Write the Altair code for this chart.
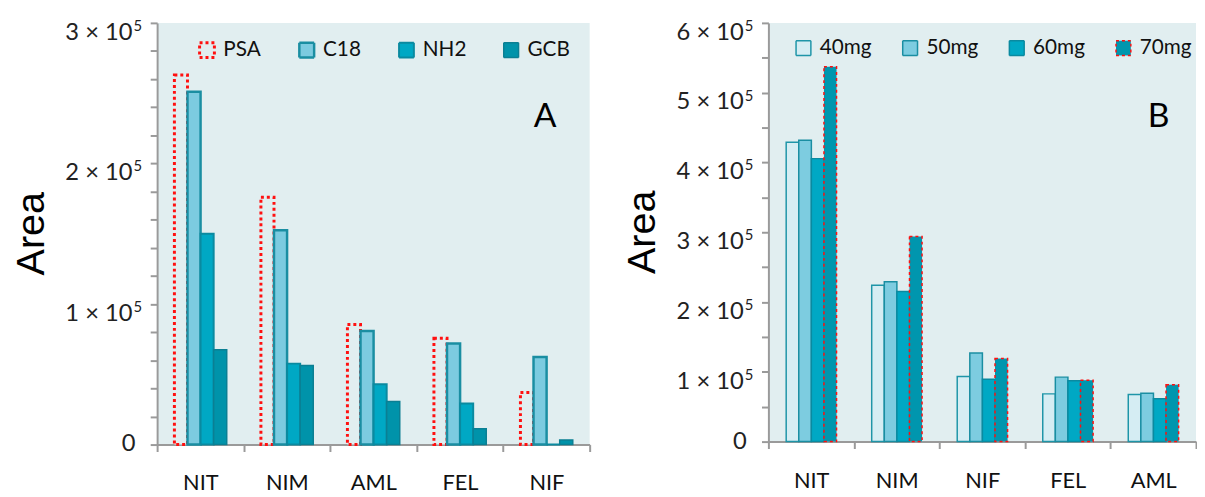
import altair as alt
import pandas as pd

# ---------------- data ----------------
cats_a = ["NIT", "NIM", "AML", "FEL", "NIF"]
series_a = ["PSA", "C18", "NH2", "GCB"]
psa = [263000, 176000, 85500, 75700, 37000]
c18 = [251000, 152500, 80800, 71900, 62300]
nh2 = [150000, 57600, 42900, 29300, 0]
gcb = [67500, 56200, 30700, 11200, 3300]

cats_b = ["NIT", "NIM", "NIF", "FEL", "AML"]
series_b = ["40mg", "50mg", "60mg", "70mg"]
mg40 = [429000, 224000, 93400, 68400, 67400]
mg50 = [432000, 229000, 127000, 92400, 69300]
mg60 = [405500, 215000, 89500, 87200, 61300]
mg70 = [537000, 294000, 119000, 88000, 81600]

y_ticks_a = [0, 100000, 200000, 300000]
y_ticks_b = [0, 100000, 200000, 300000, 400000, 500000, 600000]
tick_mantissa_a = ["0", "1", "2", "3"]
tick_mantissa_b = ["0", "1", "2", "3", "4", "5", "6"]
tick_exponent = "5"
y_title = "Area"

BG = "#e1eef0"
RED = "#ff1010"
FONT = "Lato"
GRAY = "#9a9a9a"

rows_a = []
for s, vals in zip(series_a, [psa, c18, nh2, gcb]):
    for c, v in zip(cats_a, vals):
        rows_a.append({"cat": c, "series": s, "value": v})
df_a = pd.DataFrame(rows_a)

rows_b = []
for s, vals in zip(series_b, [mg40, mg50, mg60, mg70]):
    for c, v in zip(cats_b, vals):
        rows_b.append({"cat": c, "series": s, "value": v})
df_b = pd.DataFrame(rows_b)


def tick_df(ticks, mant):
    return pd.DataFrame({
        "value": ticks,
        "main": [m if t == 0 else m + " \u00d7 10" for t, m in zip(ticks, mant)],
        "sup": ["" if t == 0 else tick_exponent for t in ticks],
    })


def y_axis():
    return alt.Axis(
        grid=False, labels=False, title=None, tickSize=7,
        domainColor=GRAY, domainWidth=2, tickColor=GRAY, tickWidth=2,
    )


def x_axis():
    return alt.Axis(
        title=None, labelAngle=0, tickBand="extent", tickSize=7, labelPadding=22,
        domainColor=GRAY, domainWidth=2, tickColor=GRAY, tickWidth=2,
        labelFont=FONT, labelFontSize=22, labelColor="#111111",
    )


def legend(x, y, pad):
    return alt.Legend(
        title=None, orient="none", legendX=x, legendY=y, direction="horizontal",
        columns=4, columnPadding=pad, gridAlign="none", symbolType="square",
        symbolSize=225, symbolStrokeWidth=2, labelFont=FONT, labelFontSize=21,
        labelColor="#111111", labelOffset=6, symbolOpacity=1,
    )


def tick_labels(ticks, mant):
    d = tick_df(ticks, mant)
    base = alt.Chart(d)
    main = base.transform_filter("datum.value > 0").mark_text(
        font=FONT, fontSize=24, color="#222222", align="right", baseline="alphabetic", dy=17
    ).encode(y="value:Q", x=alt.value(-25), text="main:N")
    sup = base.transform_filter("datum.value > 0").mark_text(
        font=FONT, fontSize=15, color="#222222", align="left", baseline="alphabetic", dy=8
    ).encode(y="value:Q", x=alt.value(-24), text="sup:N")
    zero = base.transform_filter("datum.value == 0").mark_text(
        font=FONT, fontSize=24, color="#222222", align="right", baseline="middle"
    ).encode(y="value:Q", x=alt.value(-22), text="main:N")
    return [main, sup, zero]


def title_mark(h):
    return alt.Chart(pd.DataFrame({"t": [y_title]})).mark_text(
        font="Liberation Sans", fontSize=40, color="#000000", angle=270,
        align="center", baseline="middle"
    ).encode(text="t:N", x=alt.value(-127), y=alt.value(h / 2))


W_A, H_A = 438, 427
W_B, H_B = 433, 424

bars_a = alt.Chart(df_a).mark_bar(strokeCap="butt").encode(
    x=alt.X("cat:N", sort=cats_a, axis=x_axis(),
            scale=alt.Scale(paddingInner=0, paddingOuter=0)),
    xOffset=alt.XOffset("series:N", sort=series_a,
                        scale=alt.Scale(domain=series_a, paddingInner=0, paddingOuter=0,
                                        range=[17.5, 70.5])),
    y=alt.Y("value:Q", axis=y_axis(), scale=alt.Scale(domain=[0, 300000], nice=False)),
    fill=alt.Fill("series:N", scale=alt.Scale(domain=series_a,
                  range=[BG, "#7ccbe0", "#00a8c4", "#0093aa"]),
                  legend=legend(40, 17, 34)),
    stroke=alt.Stroke("series:N", scale=alt.Scale(domain=series_a,
                      range=[RED, "#1a8ea2", "#0a8aa0", "#0b7f93"]),
                      legend=legend(40, 17, 34)),
    strokeDash=alt.StrokeDash("series:N", scale=alt.Scale(domain=series_a,
                              range=[[3, 3], [1, 0], [1, 0], [1, 0]]),
                              legend=legend(40, 17, 34)),
    strokeWidth=alt.StrokeWidth("series:O", scale=alt.Scale(domain=series_a,
                                range=[3, 1.5, 1.5, 1.5]), legend=None),
)

lab_a = alt.Chart(pd.DataFrame({"t": ["A"]})).mark_text(
    font=FONT, fontSize=34, color="#000000", baseline="middle", align="center"
).encode(text="t:N", x=alt.value(393), y=alt.value(95))

panel_a = alt.layer(bars_a, *tick_labels(y_ticks_a, tick_mantissa_a), title_mark(H_A), lab_a
                    ).properties(width=W_A, height=H_A)

bars_b = alt.Chart(df_b).mark_bar(strokeCap="butt").encode(
    x=alt.X("cat:N", sort=cats_b, axis=x_axis(),
            scale=alt.Scale(paddingInner=0, paddingOuter=0)),
    xOffset=alt.XOffset("series:N", sort=series_b,
                        scale=alt.Scale(domain=series_b, paddingInner=0, paddingOuter=0,
                                        range=[18, 69])),
    y=alt.Y("value:Q", axis=y_axis(), scale=alt.Scale(domain=[0, 600000], nice=False)),
    fill=alt.Fill("series:N", scale=alt.Scale(domain=series_b,
                  range=["#d5edf3", "#7dcce0", "#00a8c4", "#0096ae"]),
                  legend=legend(25, 15, 28)),
    stroke=alt.Stroke("series:N", scale=alt.Scale(domain=series_b,
                      range=["#1e95a8", "#1a8ea2", "#0a8aa0", RED]),
                      legend=legend(25, 15, 28)),
    strokeDash=alt.StrokeDash("series:N", scale=alt.Scale(domain=series_b,
                              range=[[1, 0], [1, 0], [1, 0], [3, 3]]),
                              legend=legend(25, 15, 28)),
    strokeWidth=alt.StrokeWidth("series:O", scale=alt.Scale(domain=series_b,
                                range=[1.5, 1.5, 1.5, 3]), legend=None),
)

lab_b = alt.Chart(pd.DataFrame({"t": ["B"]})).mark_text(
    font=FONT, fontSize=34, color="#000000", baseline="middle", align="center"
).encode(text="t:N", x=alt.value(395), y=alt.value(95))

panel_b = alt.layer(bars_b, *tick_labels(y_ticks_b, tick_mantissa_b), title_mark(H_B), lab_b
                    ).properties(width=W_B, height=H_B)

chart = alt.hconcat(panel_a, panel_b, spacing=33).resolve_scale(
    x="independent", y="independent", fill="independent", stroke="independent",
    strokeDash="independent", strokeWidth="independent", xOffset="independent",
).properties(
    padding={"left": 4, "top": 8, "right": 0, "bottom": 0}, background="#ffffff"
).configure_view(fill=BG, stroke=None)

chart.save("out.html", embed_options={"renderer": "svg", "actions": False})
